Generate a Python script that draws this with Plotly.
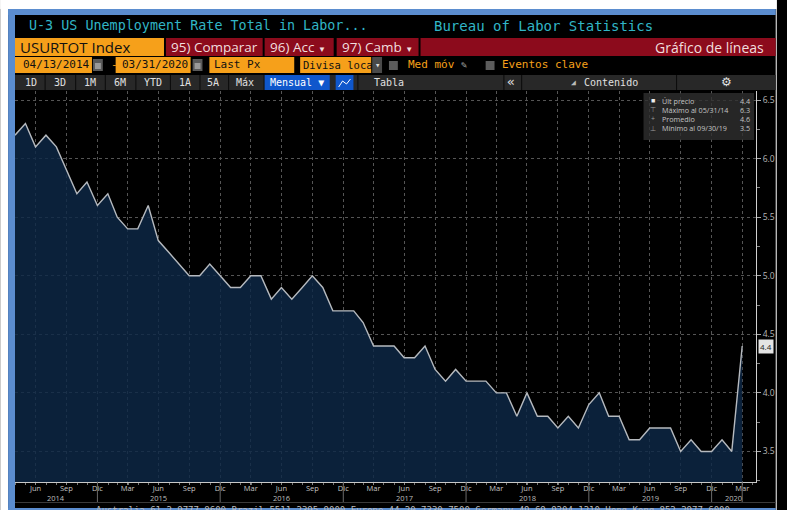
import pandas as pd
import plotly.graph_objects as go

# monthly U-3 unemployment rate, Apr 2014 - Mar 2020 (month-end dates)
dates = pd.date_range('2014-04-01', periods=72, freq='MS') + pd.offsets.MonthEnd(0)
unemployment_rate = [
    6.2, 6.3, 6.1, 6.2, 6.1, 5.9, 5.7, 5.8, 5.6,                 # 2014
    5.7, 5.5, 5.4, 5.4, 5.6, 5.3, 5.2, 5.1, 5.0, 5.0, 5.1, 5.0,  # 2015
    4.9, 4.9, 5.0, 5.0, 4.8, 4.9, 4.8, 4.9, 5.0, 4.9, 4.7, 4.7,  # 2016
    4.7, 4.6, 4.4, 4.4, 4.4, 4.3, 4.3, 4.4, 4.2, 4.1, 4.2, 4.1,  # 2017
    4.1, 4.1, 4.0, 4.0, 3.8, 4.0, 3.8, 3.8, 3.7, 3.8, 3.7, 3.9,  # 2018
    4.0, 3.8, 3.8, 3.6, 3.6, 3.7, 3.7, 3.7, 3.5, 3.6, 3.5, 3.5,  # 2019
    3.6, 3.5, 4.4,                                               # 2020
]
month_names = {3: 'Mar', 6: 'Jun', 9: 'Sep', 12: 'Dic'}
y_ticks = [3.5, 4.0, 4.5, 5.0, 5.5, 6.0, 6.5]
x_end = pd.Timestamp('2020-05-11')

ORANGE = '#f6a01a'
DARKRED = '#8c0b1c'
CYAN = '#31b6c6'
FRAME = '#5b8dcf'
MONO = 'DejaVu Sans Mono'
SANS = 'Open Sans'

# plot area in pixels
L, R, T, B = 15, 766, 91, 482


def px(x):
    return (x - L) / (R - L)


def py(y):
    return (B - y) / (B - T)


shapes = []
annotations = []


def rect(x0, y0, x1, y1, color, layer='above'):
    shapes.append(dict(type='rect', xref='paper', yref='paper', x0=px(x0), x1=px(x1),
                       y0=py(y1), y1=py(y0), fillcolor=color, line_width=0, layer=layer))


def text(x, y, s, size=11, color='#ddd', family=MONO, anchor='left', pad=1):
    annotations.append(dict(xref='paper', yref='paper', x=px(x), y=py(y), text=s,
                            showarrow=False, xanchor=anchor, yanchor='middle', borderpad=pad,
                            font=dict(size=size, color=color, family=family)))


# outer white margin + blue frame
rect(0, 0, 787, 9, 'white')
rect(0, 0, 8, 510, 'white')
rect(786, 0, 787, 510, 'white')
rect(8, 9, 786, 15, FRAME)
rect(8, 9, 15, 510, FRAME)
rect(8, 508, 786, 510, FRAME)

# title row
text(27, 26, 'U-3 US Unemployment Rate Total in Labor...', 13.4, CYAN)
text(438, 26, 'Bureau of Labor Statistics', 14, CYAN)

# row 2
rect(15, 38, 166, 56, ORANGE)
text(18, 47, 'USURTOT Index', 15, '#111', SANS)
rect(168, 38, 266, 56, DARKRED)
rect(268, 38, 338, 56, DARKRED)
rect(341, 38, 424, 56, DARKRED)
rect(426, 38, 786, 56, DARKRED)
text(171, 47, '95) Comparar', 13.5, '#f1dede', SANS)
text(271, 47, '96) Acc <span style="font-size:8px">▼</span>', 13.5, '#f1dede', SANS)
text(344, 47, '97) Camb <span style="font-size:8px">▼</span>', 13.5, '#f1dede', SANS)
text(776, 47, 'Gráfico de líneas', 14, '#f1dede', SANS, anchor='right')

# row 3
rect(15, 57, 93, 73, ORANGE)
text(21, 65, '04/13/2014', 11, '#111')
rect(94, 59, 104, 71, '#5a5a5a')
rect(96, 63, 102, 69, '#9a9a9a')
text(110, 65, '-', 11, ORANGE)
rect(117, 57, 193, 73, ORANGE)
text(121, 65, '03/31/2020', 11, '#111')
rect(195, 59, 205, 71, '#5a5a5a')
rect(197, 63, 203, 69, '#9a9a9a')
rect(212, 57, 298, 73, ORANGE)
text(215, 65, 'Last Px', 11, '#111')
rect(304, 57, 376, 73, ORANGE)
text(305, 65, 'Divisa loca', 10.5, '#111')
rect(377, 57, 387, 73, '#4a4a4a')
text(382, 65, '▾', 9, '#ddd', anchor='center')
rect(394, 61, 403, 70, '#5c5c5c')
text(411, 65, 'Med móv', 11, ORANGE)
text(465, 65, '✎', 10, '#aaa')
rect(492, 61, 501, 70, '#5c5c5c')
text(507, 65, 'Eventos clave', 11, ORANGE)

# row 4
rect(15, 75, 786, 90, '#282828')
for sx in [45, 76, 106, 137, 172, 202, 231, 267, 362, 510, 528, 685]:
    rect(sx, 75, sx + 1, 90, '#0a0a0a')
for lbl, cx in [('1D', 31), ('3D', 61), ('1M', 91), ('6M', 121), ('YTD', 155),
                ('1A', 187), ('5A', 216), ('Máx', 248)]:
    text(cx, 82.5, lbl, 10, '#e0e0e0', anchor='center')
rect(268, 75, 334, 90, '#0f57cc')
text(271, 82.5, 'Mensual ▼', 10, 'white')
rect(340, 75, 358, 90, '#0f57cc')
shapes.append(dict(type='path', xref='paper', yref='paper', layer='above',
                   path=f'M {px(343)},{py(87)} L {px(347)},{py(81)} L {px(351)},{py(84)} L {px(355)},{py(79)}',
                   line=dict(color='white', width=1)))
text(377, 82.5, 'Tabla', 10, '#e0e0e0')
text(518, 82, '«', 13, '#e0e0e0', anchor='center')
text(576, 82.5, '◢', 8, '#bbb')
text(590, 82.5, 'Contenido', 10, '#e0e0e0')
text(736, 82, '⚙', 12, '#e0e0e0', SANS, anchor='center')

# summary box in plot corner
rect(652, 93, 764, 140, 'rgba(48,48,48,0.8)')
last_v = unemployment_rate[-1]
max_v = max(unemployment_rate)
min_v = min(unemployment_rate)
avg_v = sum(unemployment_rate) / len(unemployment_rate)
max_d = dates[unemployment_rate.index(max_v)].strftime('%m/%d/%y')
min_d = dates[unemployment_rate.index(min_v)].strftime('%m/%d/%y')
rows = [('■', 'Últ precio', last_v), ('⊤', f'Máximo al {max_d}', max_v),
        ('+', 'Promedio', avg_v), ('⊥', f'Mínimo al {min_d}', min_v)]
for i, (icon, lbl, val) in enumerate(rows):
    yy = 100.5 + i * 9.2
    text(662, yy, icon, 7, '#eee' if i == 0 else '#999', SANS, anchor='center', pad=0)
    text(670, yy, lbl, 7.2, '#c4c4c4', SANS, pad=0)
    text(761, yy, f'{val:.1f}', 7.2, '#c4c4c4', SANS, anchor='right', pad=0)

# x axis year row
rect(15, 502, 786, 503, '#3a3a3a')
x_start = dates[0]
for yr in range(2014, 2021):
    left = max(x_start, pd.Timestamp(f'{yr - 1}-12-31'))
    right = min(x_end, pd.Timestamp(f'{yr}-12-31'))
    mid = left + (right - left) / 2
    annotations.append(dict(xref='x', yref='paper', x=mid, y=py(497.5), text=str(yr),
                            showarrow=False, xanchor='center', yanchor='middle',
                            font=dict(size=7.5, color='#bdbdbd', family=SANS)))
    if yr < 2020:
        shapes.append(dict(type='line', xref='x', yref='paper', x0=right, x1=right,
                           y0=py(482), y1=py(502), line=dict(color='#6a6a6a', width=1)))
shapes.append(dict(type='line', xref='x', yref='paper', x0=dates[-1], x1=dates[-1],
                   y0=py(482), y1=py(502), line=dict(color='#6a6a6a', width=1)))

# footer line (cut off by frame)
annotations.append(dict(xref='paper', yref='paper', x=px(95), y=py(503), text=(
    'Australia 61 2 9777 8600 Brazil 5511 2395 9000 Europe 44 20 7330 7500 '
    'Germany 49 69 9204 1210 Hong Kong 852 2977 6000'), showarrow=False,
    xanchor='left', yanchor='top', font=dict(size=9, color='#bbb', family=MONO)))

# last price tag on the axis
annotations.append(dict(xref='paper', yref='y', x=1, y=last_v, xshift=2, text=f'{last_v:.1f}',
                        showarrow=False, xanchor='left', yanchor='middle', bgcolor='#e4e4e4',
                        borderpad=1, font=dict(size=8, color='#222', family=SANS)))

tick_dates = [d for d in dates if d.month in month_names]
tick_text = [month_names[d.month] for d in tick_dates]

fig = go.Figure()
fig.add_trace(go.Scatter(
    x=dates, y=unemployment_rate, mode='lines', fill='tozeroy',
    fillcolor='rgba(14,40,71,0.82)', line=dict(color='#b6babf', width=1.4),
    hoverinfo='x+y', showlegend=False,
))
fig.update_layout(
    width=787, height=510,
    margin=dict(l=L, r=787 - R, t=T, b=510 - B),
    paper_bgcolor='black', plot_bgcolor='black',
    shapes=shapes, annotations=annotations,
    xaxis=dict(type='date', range=[dates[0], x_end], tickvals=tick_dates, ticktext=tick_text,
               showgrid=True, gridcolor='#555', griddash='dot', gridwidth=1,
               showline=True, linecolor='#c8c8c8', linewidth=1,
               ticks='outside', ticklen=2, tickcolor='#888', ticklabelstandoff=-3,
               tickfont=dict(size=7.5, color='#c4c4c4', family=SANS),
               minor=dict(ticks='outside', ticklen=2, dtick='M1', tickcolor='#777'),
               zeroline=False, fixedrange=True),
    yaxis=dict(side='right', range=[3.239, 6.577], tickvals=y_ticks, tickformat='.1f',
               showgrid=True, gridcolor='#555', griddash='dot', gridwidth=1,
               showline=True, linecolor='#d0d0d0', linewidth=1,
               ticks='outside', ticklen=4, tickcolor='#aaa',
               tickfont=dict(size=8.5, color='#b8b8b8', family=SANS),
               minor=dict(ticks='outside', ticklen=3, dtick=0.25, tickcolor='#888'),
               zeroline=False, fixedrange=True),
)

fig.write_html('out.html', config={'displayModeBar': False},
               post_script="document.body.style.margin='0';")
